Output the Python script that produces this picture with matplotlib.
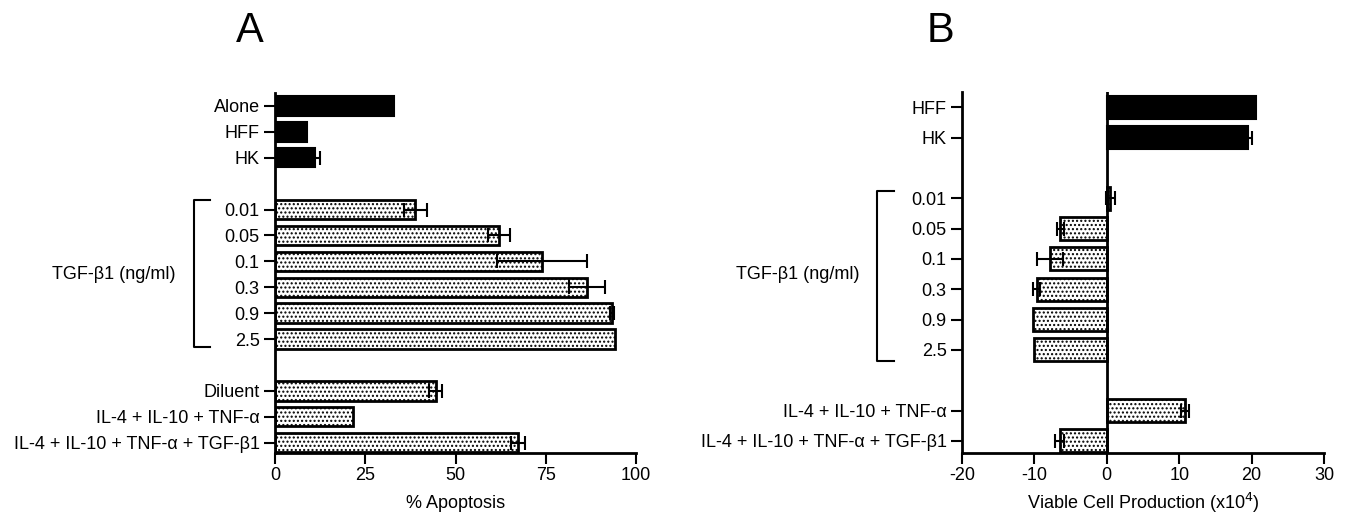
import matplotlib
matplotlib.use('Agg')
import matplotlib.pyplot as plt

plt.rcParams['font.family'] = ['Liberation Sans', 'DejaVu Sans']
plt.rcParams['axes.unicode_minus'] = False
plt.rcParams['hatch.linewidth'] = 1.0

# panel A: % apoptosis
labels_a = ['Alone', 'HFF', 'HK', '0.01', '0.05', '0.1', '0.3', '0.9', '2.5',
            'Diluent', 'IL-4 + IL-10 + TNF-α', 'IL-4 + IL-10 + TNF-α + TGF-β1']
pos_a = [0, 1, 2, 4, 5, 6, 7, 8, 9, 11, 12, 13]
apop = [33, 9, 11, 38.8, 62, 74, 86.5, 93.3, 94.3, 44.5, 21.5, 67.3]
apop_err = [0, 0, 1.4, 3.2, 3, 12.5, 5, 0.5, 0, 1.8, 0, 2]
dark_a = [True, True, True] + [False] * 9

# panel B: viable cell production (x10^4)
labels_b = ['HFF', 'HK', '0.01', '0.05', '0.1', '0.3', '0.9', '2.5',
            'IL-4 + IL-10 + TNF-α', 'IL-4 + IL-10 + TNF-α + TGF-β1']
pos_b = [0, 1, 3, 4, 5, 6, 7, 8, 10, 11]
viable = [20.6, 19.5, 0.5, -6.4, -7.8, -9.7, -10.2, -10.1, 10.8, -6.5]
viable_err = [0, 0.6, 0.6, 0.5, 1.8, 0.5, 0, 0, 0.5, 0.6]
dark_b = [True, True] + [False] * 8

FS = 13
W, H = 1345, 524
fig = plt.figure(figsize=(W / 100, H / 100), dpi=100)

axA = fig.add_axes([275 / W, 1 - 453 / H, 361 / W, 360 / H])
axB = fig.add_axes([962 / W, 1 - 453 / H, 362 / W, 361 / H])


def draw(ax, pos, vals, errs, dark):
    for p, v, e, d in zip(pos, vals, errs, dark):
        if d:
            ax.barh(p, v, height=0.75, color='black', edgecolor='black', lw=1.5)
        else:
            ax.barh(p, v, height=0.75, color='white', edgecolor='black',
                    hatch='....', lw=2)
        if e > 0:
            ax.errorbar(v, p, xerr=e, fmt='none', ecolor='black',
                        elinewidth=1.5, capsize=5, capthick=1.5)
    for s in ['top', 'right']:
        ax.spines[s].set_visible(False)
    for s in ['left', 'bottom']:
        ax.spines[s].set_linewidth(2)
    ax.tick_params(axis='both', length=8, width=1.5, labelsize=FS, pad=3)


draw(axA, pos_a, apop, apop_err, dark_a)
axA.set_xlim(0, 100)
axA.set_ylim(13.4, -0.5)
axA.set_xticks([0, 25, 50, 75, 100])
axA.set_yticks(pos_a)
axA.set_yticklabels(labels_a)
axA.tick_params(axis='x', pad=2)
axA.set_xlabel('% Apoptosis', fontsize=FS, labelpad=8)
axA.plot([-17.9, -22.3, -22.3, -17.9], [3.65, 3.65, 9.3, 9.3],
         color='black', lw=1.5, clip_on=False)
axA.text(-44.6, 6.5, 'TGF-β1 (ng/ml)', ha='center', va='center', fontsize=FS)

draw(axB, pos_b, viable, viable_err, dark_b)
axB.axvline(0, color='black', lw=2)
axB.set_xlim(-20, 30)
axB.set_ylim(11.4, -0.5)
axB.set_xticks([-20, -10, 0, 10, 20, 30])
axB.set_yticks(pos_b)
axB.set_yticklabels(labels_b)
axB.tick_params(axis='x', pad=2)
axB.set_xlabel('Viable Cell Production (x10$^4$)', fontsize=FS, labelpad=5)
axB.plot([-29.4, -31.8, -31.8, -29.4], [2.77, 2.77, 8.36, 8.36],
         color='black', lw=1.5, clip_on=False)
axB.text(-42.7, 5.5, 'TGF-β1 (ng/ml)', ha='center', va='center', fontsize=FS)

fig.text(250 / W, 1 - 31 / H, 'A', fontsize=30, ha='center', va='center')
fig.text(940 / W, 1 - 31 / H, 'B', fontsize=30, ha='center', va='center')

fig.savefig('out.png', dpi=100)
